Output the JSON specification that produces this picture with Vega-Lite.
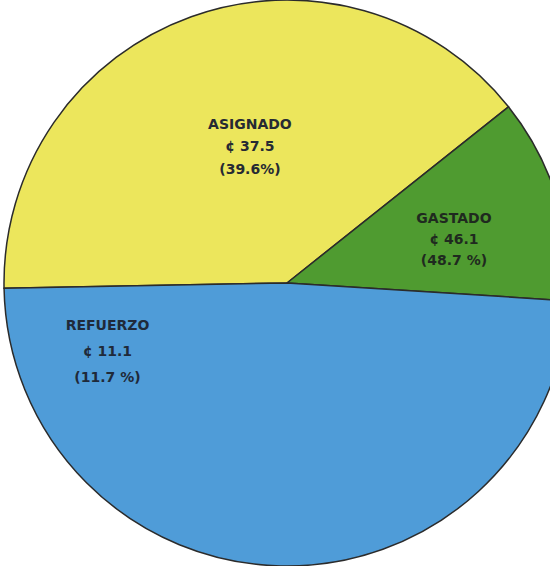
{
  "$schema": "https://vega.github.io/schema/vega-lite/v6.json",
  "width": 574,
  "height": 566,
  "autosize": "none",
  "padding": 0,
  "background": "#ffffff",
  "config": {"view": {"stroke": null}},
  "data": {"values": [
    {"sector": "amarillo", "proporcion": 39.6, "rotulo": "ASIGNADO\n¢ 37.5\n(39.6%)"},
    {"sector": "verde", "proporcion": 11.7, "rotulo": "GASTADO\n¢ 46.1\n(48.7 %)"},
    {"sector": "azul", "proporcion": 48.7, "rotulo": "REFUERZO\n¢ 11.1\n(11.7 %)"}
  ]},
  "encoding": {
    "theta": {"field": "proporcion", "type": "quantitative", "stack": true, "scale": {"type": "linear", "domain": [0, 100], "range": [0.8988, 7.182]}},
    "order": {"field": "sector", "sort": "descending"}
  },
  "layer": [
    {
      "mark": {"type": "arc", "stroke": "#2b2b2b", "strokeWidth": 1.5},
      "encoding": {
        "color": {"field": "sector", "type": "nominal", "scale": {"domain": ["amarillo", "verde", "azul"], "range": ["#ece65c", "#4f9b30", "#4f9cd8"]}, "legend": null}
      }
    },
    {
      "mark": {"type": "text", "radius": 145, "dx": 12, "dy": -22, "lineBreak": "\n", "lineHeight": 22.5, "font": "DejaVu Sans", "fontWeight": "bold", "fontSize": 14, "fill": "#262a33", "align": "center", "baseline": "middle"},
      "encoding": {
        "detail": {"field": "sector", "type": "nominal"},
        "text": {"condition": {"test": "datum.sector === 'amarillo'", "field": "rotulo", "type": "nominal"}, "value": ""}
      }
    },
    {
      "mark": {"type": "text", "radius": 175, "dy": -12, "lineBreak": "\n", "lineHeight": 21, "font": "DejaVu Sans", "fontWeight": "bold", "fontSize": 14, "fill": "#1f2a1f", "align": "center", "baseline": "middle"},
      "encoding": {
        "detail": {"field": "sector", "type": "nominal"},
        "text": {"condition": {"test": "datum.sector === 'verde'", "field": "rotulo", "type": "nominal"}, "value": ""}
      }
    },
    {
      "mark": {"type": "text", "radius": 69, "dx": -178, "dy": -26, "lineBreak": "\n", "lineHeight": 26, "font": "DejaVu Sans", "fontWeight": "bold", "fontSize": 14, "fill": "#1f2a3a", "align": "center", "baseline": "middle"},
      "encoding": {
        "detail": {"field": "sector", "type": "nominal"},
        "text": {"condition": {"test": "datum.sector === 'azul'", "field": "rotulo", "type": "nominal"}, "value": ""}
      }
    }
  ]
}
